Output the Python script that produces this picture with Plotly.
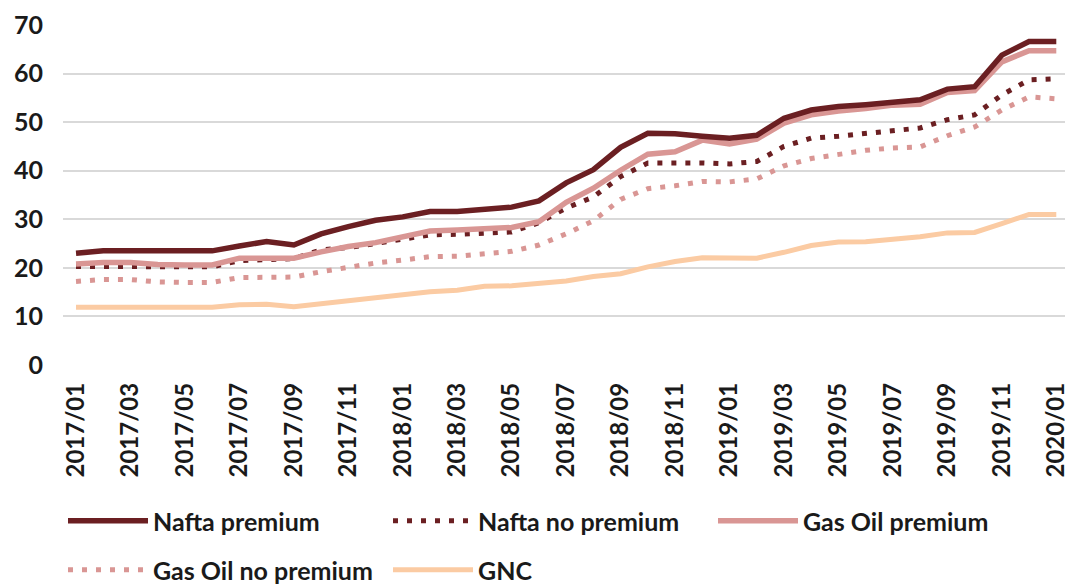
import plotly.graph_objects as go

months = [f"{y}/{m:02d}" for y in (2017, 2018, 2019) for m in range(1, 13)] + ["2020/01"]
tick_labels = months[::2]

nafta_premium = [23.0, 23.5, 23.5, 23.5, 23.5, 23.5, 24.5, 25.4, 24.7, 27.0, 28.5, 29.8, 30.5,
                 31.6, 31.6, 32.0, 32.5, 33.8, 37.5, 40.2, 44.8, 47.7, 47.6, 47.1, 46.7, 47.3,
                 50.8, 52.5, 53.2, 53.6, 54.2, 54.6, 56.8, 57.3, 63.8, 66.6, 66.6]
nafta_no_premium = [20.3, 20.3, 20.3, 20.2, 20.2, 20.2, 21.5, 21.8, 21.9, 23.7, 24.2, 25.0, 26.0,
                    26.8, 26.9, 27.2, 27.4, 29.3, 32.3, 34.6, 38.8, 41.6, 41.7, 41.6, 41.4, 41.9,
                    45.0, 46.7, 47.1, 47.7, 48.4, 48.8, 50.5, 51.5, 55.6, 58.7, 58.9]
gasoil_premium = [20.8, 21.1, 21.1, 20.7, 20.6, 20.6, 22.0, 22.0, 22.0, 23.3, 24.4, 25.2, 26.3,
                  27.6, 27.8, 28.1, 28.3, 29.5, 33.5, 36.4, 40.1, 43.4, 43.9, 46.3, 45.5, 46.5,
                  49.8, 51.5, 52.3, 52.8, 53.5, 53.7, 56.1, 56.5, 62.4, 64.7, 64.7]
gasoil_no_premium = [17.2, 17.6, 17.6, 17.1, 17.0, 17.0, 18.0, 18.1, 18.1, 19.2, 20.2, 21.0, 21.6,
                     22.3, 22.4, 22.8, 23.4, 24.7, 27.0, 29.7, 34.1, 36.3, 36.9, 37.8, 37.7, 38.3,
                     41.0, 42.5, 43.3, 44.2, 44.7, 44.9, 47.2, 49.0, 52.5, 55.2, 54.8]
gnc = [11.9, 11.9, 11.9, 11.9, 11.9, 11.9, 12.4, 12.5, 12.0, 12.6, 13.2, 14.0, 14.6,
       15.1, 15.4, 16.2, 16.3, 16.8, 17.3, 18.2, 18.8, 20.2, 21.3, 22.1, 22.0, 22.0,
       23.2, 24.6, 25.3, 25.4, 25.9, 26.4, 27.2, 27.3, 29.1, 31.0, 31.0]

DARK = "#6B1F22"
PINK = "#D99694"
PEACH = "#FBCBA3"
DOT = "5px,9px"
FONT = "Lato, Carlito, sans-serif"
TXT = "#1a1a1a"

series = [
    ("Nafta premium", nafta_premium, DARK, "solid", 5.5, "legend"),
    ("Nafta no premium", nafta_no_premium, DARK, DOT, 5, "legend"),
    ("Gas Oil premium", gasoil_premium, PINK, "solid", 5.5, "legend"),
    ("Gas Oil no premium", gasoil_no_premium, PINK, DOT, 5, "legend2"),
    ("GNC", gnc, PEACH, "solid", 5, "legend2"),
]

fig = go.Figure()
order = [4, 3, 1, 2, 0]
for idx in order:
    name, vals, col, dash, w, leg = series[idx]
    fig.add_trace(go.Scatter(
        x=months, y=vals, mode="lines", name=name,
        line=dict(color=col, width=w, dash=dash),
        legend=leg, legendrank=idx,
    ))

legend_common = dict(
    orientation="h", xanchor="left", yanchor="middle",
    font=dict(family=FONT, size=25, color=TXT, weight="bold"),
    itemwidth=80,
    entrywidth=230, entrywidthmode="pixels",
    bgcolor="rgba(0,0,0,0)", traceorder="normal",
)

# the page body adds an 8px offset, so the figure is sized to end at the window edge
fig.update_layout(
    width=1065, height=579,
    margin=dict(l=55, r=5, t=17, b=222, autoexpand=False),
    paper_bgcolor="white", plot_bgcolor="white",
    font=dict(family=FONT, size=20, color=TXT),
    xaxis=dict(
        type="category", range=[-0.478, 36.43], automargin=False,
        tickmode="array", tickvals=tick_labels, ticktext=tick_labels,
        tickangle=-90, showgrid=False, zeroline=False, showline=False,
        tickfont=dict(family=FONT, size=24, color=TXT, weight="bold"),
        ticks="", ticklabelstandoff=12,
    ),
    yaxis=dict(
        range=[0, 70], dtick=10, showgrid=True, gridcolor="#D9D9D9", gridwidth=1.5,
        zeroline=False, showline=False, ticks="", automargin=False,
        tickfont=dict(family=FONT, size=25, color=TXT, weight="bold"),
        ticklabelstandoff=19,
    ),
    legend=dict(x=0.0, y=-0.459, **legend_common),
    legend2=dict(x=0.0, y=-0.603, **legend_common),
)

fig.write_html("out.html")
